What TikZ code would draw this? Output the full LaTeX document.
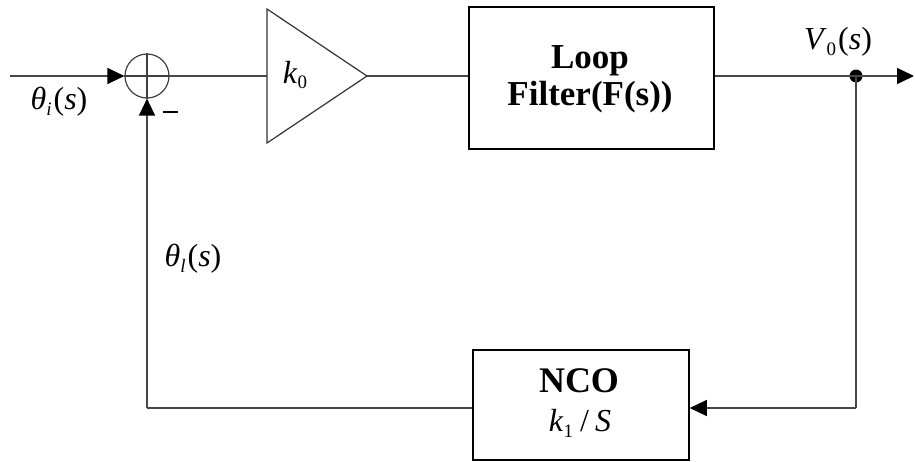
\documentclass[tikz,border=0pt]{standalone}
\usepackage{fontspec}
\setmainfont{Liberation Serif}
\usetikzlibrary{arrows.meta}
\newcommand{\sbs}[1]{\raisebox{-0.4ex}{\fontsize{19}{19}\selectfont #1}}
\begin{document}
\begin{tikzpicture}[x=1pt,y=-1pt,
  wire/.style={draw=black!72, line width=1.4pt},
  arr/.style={-{Triangle[length=17pt,width=16pt,color=black]}},
  blk/.style={draw=black, line width=1.8pt, fill=white},
  lbl/.style={font=\fontsize{32}{34}\selectfont, inner sep=0pt}]
\useasboundingbox (0,0) rectangle (915,461);
% nodes
\node[circle, draw=black!75, line width=1.2pt, minimum size=44pt, inner sep=0pt] (sum) at (147,76) {};
\draw[black!75, line width=1.2pt] (sum.north) -- (sum.south) (sum.west) -- (sum.east);
\coordinate (ampw) at (267,76);
\coordinate (ampapex) at (367,76);
\draw[black!80, line width=1.2pt, line join=miter] (267,9) -- (ampapex) -- (267,143) -- cycle;
\node[blk, minimum width=245pt, minimum height=142pt, anchor=north west] (lf) at (468,6) {};
\node[font=\fontsize{35}{36}\selectfont\bfseries, inner sep=0pt] (lft1) at (590,61) {Loop};
\node[font=\fontsize{35}{36}\selectfont\bfseries, inner sep=0pt] (lft2) at (590,97) {Filter(F(s))};
\node[blk, minimum width=216pt, minimum height=110pt, anchor=north west] (nco) at (472,349) {};
\node[font=\fontsize{36}{38}\selectfont\bfseries, inner sep=0pt] (ncot) at (579,381) {NCO};
\node[lbl] (ncok) at (580,423) {\textit{k}\sbs{1}\hspace{7pt}/\hspace{6pt}\textit{S}};
\coordinate (in) at (10,76);
\coordinate (out) at (914,76);
\coordinate (br) at (856,408);
\coordinate (bl) at (147,408);
\fill[black] (856,76) circle (6.5pt) coordinate (dot);
% labels
\node[lbl] (thi) at (59,102) {\textit{θ}\sbs{\textit{i}}\hspace{2pt}(\textit{s})};
\node[lbl] (thl) at (193,259) {\textit{θ}\sbs{\textit{l}}\hspace{2pt}(\textit{s})};
\node[lbl] (v0) at (838,42) {\textit{V}\sbs{0}\hspace{2pt}(\textit{s})};
\node[lbl] (k0) at (295,75) {\textit{k}\sbs{0}};
\node[inner sep=0pt] (minus) at (170,112) {\rule{15pt}{1.8pt}};
% connectors
\draw[wire, arr] (in) -- (sum.west);
\draw[wire] (sum.east) -- (ampw);
\draw[wire] (ampapex) -- (lf.west |- ampapex);
\draw[wire, arr] (lf.east |- out) -- (out);
\draw[wire] (dot) -- (br);
\draw[wire, arr] (br) -- (nco.east |- br);
\draw[wire] (nco.west |- bl) -- (bl);
\draw[wire, arr] (bl) -- (sum.south);
\end{tikzpicture}
\end{document}
